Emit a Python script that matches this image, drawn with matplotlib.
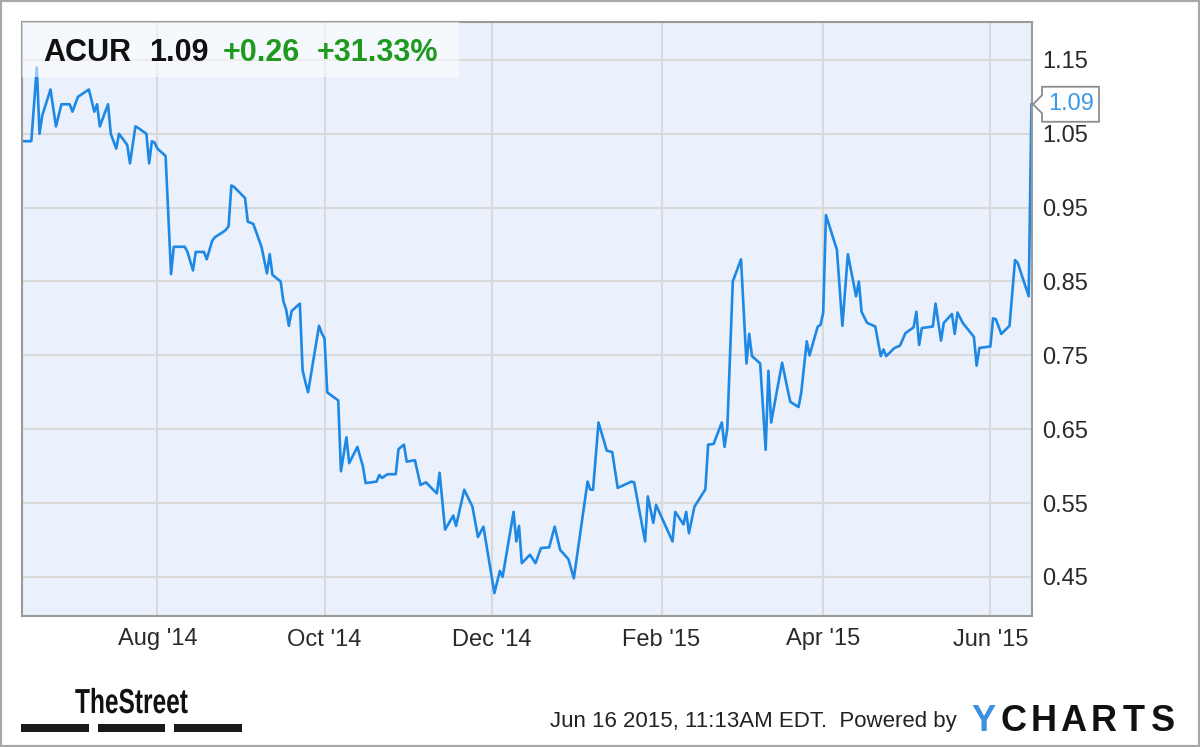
import datetime as dt
import matplotlib
matplotlib.use("Agg")
import matplotlib.pyplot as plt
import matplotlib.dates as mdates
from matplotlib.patches import Rectangle, Polygon
from matplotlib.transforms import IdentityTransform, Affine2D
from matplotlib.patheffects import AbstractPathEffect

# ---------------- data ----------------
dates = [
    "2014-06-13", "2014-06-16", "2014-06-18", "2014-06-19", "2014-06-20", "2014-06-23",
    "2014-06-25", "2014-06-27", "2014-06-30", "2014-07-01", "2014-07-03", "2014-07-07",
    "2014-07-09", "2014-07-10", "2014-07-11", "2014-07-14", "2014-07-15", "2014-07-17",
    "2014-07-18", "2014-07-21", "2014-07-22", "2014-07-24", "2014-07-25", "2014-07-28",
    "2014-07-29", "2014-07-30", "2014-07-31", "2014-08-01", "2014-08-04", "2014-08-06",
    "2014-08-07", "2014-08-08", "2014-08-11", "2014-08-12", "2014-08-14", "2014-08-15",
    "2014-08-18", "2014-08-19", "2014-08-21", "2014-08-22", "2014-08-25", "2014-08-26",
    "2014-08-27", "2014-08-28", "2014-08-29", "2014-09-02", "2014-09-03", "2014-09-05",
    "2014-09-08", "2014-09-10", "2014-09-11", "2014-09-12", "2014-09-15", "2014-09-16",
    "2014-09-17", "2014-09-18", "2014-09-19", "2014-09-22", "2014-09-23", "2014-09-24",
    "2014-09-25", "2014-09-29", "2014-09-30", "2014-10-01", "2014-10-02", "2014-10-03",
    "2014-10-06", "2014-10-07", "2014-10-09", "2014-10-10", "2014-10-13", "2014-10-15",
    "2014-10-16", "2014-10-20", "2014-10-21", "2014-10-22", "2014-10-24", "2014-10-27",
    "2014-10-28", "2014-10-30", "2014-10-31", "2014-11-03", "2014-11-05", "2014-11-07",
    "2014-11-11", "2014-11-12", "2014-11-14", "2014-11-17", "2014-11-18", "2014-11-21",
    "2014-11-24", "2014-11-26", "2014-11-28", "2014-12-02", "2014-12-04", "2014-12-05",
    "2014-12-09", "2014-12-10", "2014-12-11", "2014-12-12", "2014-12-15", "2014-12-17",
    "2014-12-19", "2014-12-22", "2014-12-24", "2014-12-26", "2014-12-29", "2014-12-31",
    "2015-01-05", "2015-01-06", "2015-01-07", "2015-01-09", "2015-01-12", "2015-01-14",
    "2015-01-16", "2015-01-21", "2015-01-22", "2015-01-26", "2015-01-27", "2015-01-29",
    "2015-01-30", "2015-02-05", "2015-02-06", "2015-02-09", "2015-02-10", "2015-02-11",
    "2015-02-13", "2015-02-17", "2015-02-18", "2015-02-20", "2015-02-23", "2015-02-24",
    "2015-02-25", "2015-02-27", "2015-03-02", "2015-03-04", "2015-03-05", "2015-03-06",
    "2015-03-09", "2015-03-11", "2015-03-12", "2015-03-13", "2015-03-17", "2015-03-19",
    "2015-03-20", "2015-03-23", "2015-03-24", "2015-03-26", "2015-03-27", "2015-03-30",
    "2015-03-31", "2015-04-01", "2015-04-02", "2015-04-06", "2015-04-08", "2015-04-10",
    "2015-04-13", "2015-04-14", "2015-04-15", "2015-04-17", "2015-04-20", "2015-04-22",
    "2015-04-23", "2015-04-24", "2015-04-27", "2015-04-29", "2015-05-01", "2015-05-04",
    "2015-05-05", "2015-05-06", "2015-05-07", "2015-05-11", "2015-05-12", "2015-05-14",
    "2015-05-15", "2015-05-18", "2015-05-19", "2015-05-20", "2015-05-22", "2015-05-26",
    "2015-05-27", "2015-05-28", "2015-06-01", "2015-06-02", "2015-06-03", "2015-06-05",
    "2015-06-08", "2015-06-10", "2015-06-11", "2015-06-15", "2015-06-16",
]
prices = [
    1.04, 1.04, 1.14, 1.05, 1.075, 1.11,
    1.06, 1.09, 1.09, 1.08, 1.10, 1.11,
    1.08, 1.09, 1.06, 1.09, 1.05, 1.03,
    1.05, 1.035, 1.01, 1.06, 1.058, 1.05,
    1.01, 1.04, 1.038, 1.03, 1.02, 0.86,
    0.897, 0.897, 0.897, 0.89, 0.865, 0.89,
    0.89, 0.88, 0.905, 0.91, 0.917, 0.92,
    0.925, 0.98, 0.978, 0.963, 0.931, 0.928,
    0.897, 0.861, 0.887, 0.859, 0.85, 0.823,
    0.812, 0.79, 0.81, 0.82, 0.73, 0.714,
    0.70, 0.79, 0.78, 0.773, 0.70, 0.697,
    0.689, 0.593, 0.639, 0.604, 0.626, 0.60,
    0.577, 0.579, 0.588, 0.584, 0.589, 0.589,
    0.623, 0.629, 0.606, 0.608, 0.5745, 0.578,
    0.563, 0.591, 0.514, 0.533, 0.519, 0.568,
    0.545, 0.504, 0.518, 0.428, 0.458, 0.45,
    0.538, 0.498, 0.519, 0.4685, 0.48, 0.4685,
    0.489, 0.49, 0.518, 0.4865, 0.474, 0.448,
    0.579, 0.568, 0.568, 0.659, 0.621, 0.619,
    0.5705, 0.579, 0.578, 0.498, 0.559, 0.523,
    0.5475, 0.498, 0.538, 0.521, 0.538, 0.509,
    0.545, 0.5685, 0.629, 0.63, 0.659, 0.626,
    0.651, 0.85, 0.88, 0.739, 0.779, 0.749,
    0.739, 0.622, 0.729, 0.659, 0.74, 0.704,
    0.687, 0.68, 0.70, 0.769, 0.75, 0.789,
    0.791, 0.808, 0.94, 0.893, 0.79, 0.887,
    0.83, 0.85, 0.809, 0.794, 0.789, 0.749,
    0.758, 0.749, 0.76, 0.763, 0.78, 0.788,
    0.809, 0.764, 0.787, 0.789, 0.82, 0.77,
    0.794, 0.806, 0.779, 0.808, 0.7935, 0.775,
    0.736, 0.76, 0.762, 0.80, 0.799, 0.779,
    0.79, 0.879, 0.875, 0.83, 1.09,
]
ytick_values = [0.45, 0.55, 0.65, 0.75, 0.85, 0.95, 1.05, 1.15]
xtick_dates = ["2014-08-01", "2014-10-01", "2014-12-01", "2015-02-01", "2015-04-01", "2015-06-01"]
xtick_labels = ["Aug '14", "Oct '14", "Dec '14", "Feb '15", "Apr '15", "Jun '15"]
ticker = "ACUR"
last_price = "1.09"
change_abs = "+0.26"
change_pct = "+31.33%"
timestamp = "Jun 16 2015, 11:13AM EDT.  Powered by"

# ---------------- style ----------------
W, H = 1200, 747
LINE = "#1e88e5"
GREEN = "#1f9a1f"
FONT = "Liberation Sans"
plt.rcParams["font.family"] = [FONT, "DejaVu Sans"]


class HStretch(AbstractPathEffect):
    """Horizontally squeeze rendered text about a given display x."""

    def __init__(self, sx, x0):
        super().__init__()
        self.sx = sx
        self.x0 = x0

    def draw_path(self, renderer, gc, tpath, affine, rgbFace=None):
        aff = affine + Affine2D().translate(-self.x0, 0).scale(self.sx, 1).translate(self.x0, 0)
        renderer.draw_path(gc, tpath, aff, rgbFace)


fig = plt.figure(figsize=(W / 100, H / 100), dpi=100)
fig.patch.set_facecolor("white")

# plot area: x 22..1032 px, y 22..616 px (top origin)
ax = fig.add_axes([22 / W, (H - 616) / H, 1010 / W, 594 / H])
ax.set_facecolor("#eaf1fc")

x = [dt.datetime.strptime(d, "%Y-%m-%d") for d in dates]
ax.plot(x, prices, color=LINE, lw=1.9, solid_joinstyle="round", zorder=2)

anchor = mdates.date2num(dt.datetime(2014, 8, 1))
ax.set_xlim(anchor - 49.4, anchor + 319.2)
ax.set_ylim(0.397, 1.2014)

ax.set_yticks(ytick_values)
ax.set_yticklabels([f"{v:.2f}" for v in ytick_values])
ax.set_xticks([dt.datetime.strptime(d, "%Y-%m-%d") for d in xtick_dates])
ax.set_xticklabels(xtick_labels)
ax.yaxis.tick_right()
ax.tick_params(axis="y", length=0, pad=7.5, labelsize=17, colors="#2a2a2a")
ax.tick_params(axis="x", length=0, pad=9, labelsize=17, colors="#2a2a2a")
ax.grid(True, color="#d9d9d9", lw=1.5, zorder=0)
ax.set_axisbelow(True)
for s in ax.spines.values():
    s.set_color("#9a9a9a")
    s.set_linewidth(1.5)

# header box
ax.add_patch(Rectangle((0, (616 - 77) / 594), 437 / 1010, 55 / 594, transform=ax.transAxes,
                       facecolor="white", alpha=0.55, edgecolor="none", zorder=3))
base = 1 - 61 / H
fig.text(43 / W, base, ticker, fontsize=22, fontweight="bold", color="#111111", va="baseline")
fig.text(149 / W, base, last_price, fontsize=22, fontweight="bold", color="#111111", va="baseline")
fig.text(223 / W, base, change_abs, fontsize=22, fontweight="bold", color=GREEN, va="baseline")
fig.text(317 / W, base, change_pct, fontsize=22, fontweight="bold", color=GREEN, va="baseline")

# last-value callout
tx, ty = ax.transData.transform((mdates.date2num(x[-1]), prices[-1]))
tx = 1033
pts = [(tx, ty), (tx + 9, ty + 9), (tx + 9, ty + 17.5), (tx + 66, ty + 17.5),
       (tx + 66, ty - 17.5), (tx + 9, ty - 17.5), (tx + 9, ty - 9)]
fig.add_artist(Polygon(pts, closed=True, transform=IdentityTransform(), facecolor="white",
                       edgecolor="#8c8c8c", lw=1.3, zorder=5))
fig.text(tx + 38, ty, f"{prices[-1]:.2f}", transform=IdentityTransform(), fontsize=17,
         color="#3a9ae8", ha="center", va="center", zorder=6)

# footer: TheStreet logo (condensed bold)
ts = fig.text(75 / W, 1 - 713 / H, "TheStreet", fontweight="bold",
              fontsize=25, color="#111111", va="baseline")
fig.canvas.draw()
wext = ts.get_window_extent().width
ts.set_path_effects([HStretch(113 / wext, 75)])
for x0, x1 in [(21, 89), (98, 165), (174, 242)]:
    fig.add_artist(Rectangle((x0 / W, 1 - 732 / H), (x1 - x0) / W, 8 / H,
                             transform=fig.transFigure, facecolor="#1a1a1a", edgecolor="none"))

# footer: timestamp + YCHARTS
fig.text(550 / W, 1 - 727 / H, timestamp, fontsize=16, color="#222222", va="baseline")
letters = "YCHARTS"
for i, ch in enumerate(letters):
    fig.text((969 + 14.9 + 29.86 * i) / W, 1 - 731 / H, ch, fontsize=26, fontweight="bold",
             color="#3d8fe0" if i == 0 else "#111111", ha="center", va="baseline")

# outer frame
fig.add_artist(Rectangle((0, 0), 1, 1, transform=fig.transFigure, fill=False,
                         edgecolor="#a8a8a8", lw=3))

fig.savefig("out.png", dpi=100, facecolor="white")
